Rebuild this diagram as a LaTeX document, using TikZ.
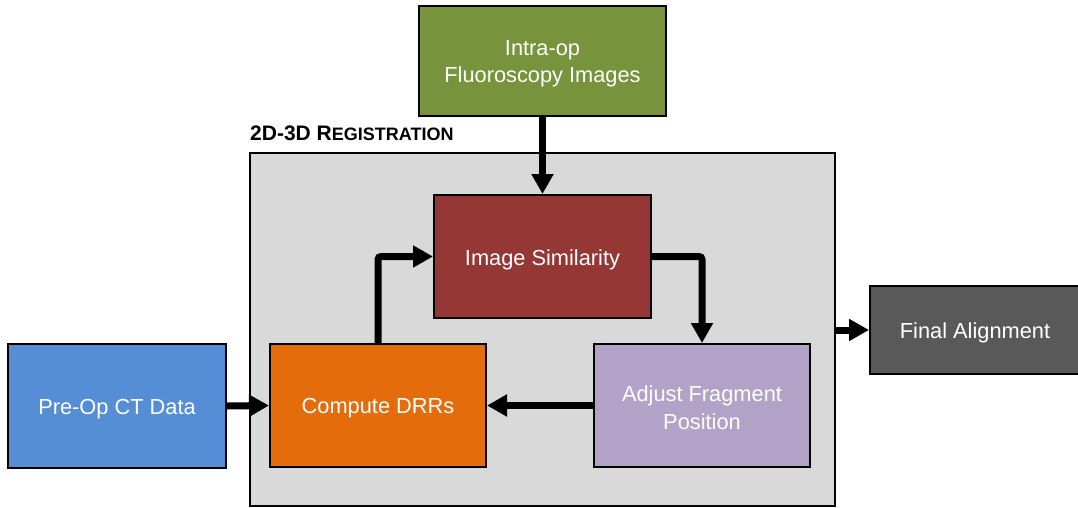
\documentclass[tikz,border=0pt]{standalone}
\usepackage{fontspec}
\setmainfont{Liberation Sans}
\usetikzlibrary{arrows.meta}

\definecolor{cgreen}{HTML}{77933C}
\definecolor{cred}{HTML}{953735}
\definecolor{corange}{HTML}{E46C0A}
\definecolor{cpurple}{HTML}{B3A2C7}
\definecolor{cblue}{HTML}{558ED5}
\definecolor{cdark}{HTML}{595959}
\definecolor{cpanel}{HTML}{D9D9D9}

\tikzset{
  block/.style={draw=black, line width=2pt, inner sep=0pt},
  caption/.style={text=white, align=center, inner sep=0pt,
    font=\fontsize{21.8}{27.5}\selectfont},
  flow/.style={line width=7pt, rounded corners=3pt,
    -{Triangle[length=20pt,width=21pt]}},
}

\begin{document}
\begin{tikzpicture}[x=1pt,y=-1pt]
  \useasboundingbox (0,0) rectangle (1078,508);

  % registration panel and its heading
  \node[draw=black, line width=2pt, fill=cpanel, inner sep=0pt,
        minimum width=585pt, minimum height=353pt] (panel) at (542.5,329.5) {};
  \node[anchor=base west, inner sep=0pt, font=\bfseries] (title) at (250,140)
    {\fontsize{21}{25}\selectfont 2D-3D R\fontsize{18}{20}\selectfont EGISTRATION};

  % process blocks
  \node[block, fill=cgreen, minimum width=247pt, minimum height=110pt] (fluoro) at (542.5,61) {};
  \node[block, fill=cred, minimum width=217pt, minimum height=123pt] (sim) at (542.5,256.5) {};
  \node[block, fill=corange, minimum width=216pt, minimum height=123pt] (drr) at (378,405.5) {};
  \node[block, fill=cpurple, minimum width=216pt, minimum height=123pt] (adjust) at (702,405.5) {};
  \node[block, fill=cblue, minimum width=218pt, minimum height=124pt] (ct) at (117,406) {};
  \node[block, fill=cdark, minimum width=210pt, minimum height=88pt] (final) at (975,330) {};

  % block captions
  \node[caption] (fluorotext) at ([yshift=-3pt]fluoro.center) {Intra-op\\Fluoroscopy Images};
  \node[caption] (simtext) at ([yshift=-3pt]sim.center) {Image Similarity};
  \node[caption] (drrtext) at ([yshift=-3pt]drr.center) {Compute DRRs};
  \node[caption] (adjusttext) at ([yshift=-2pt]adjust.center) {Adjust Fragment\\Position};
  \node[caption] (cttext) at ([yshift=-3pt]ct.center) {Pre-Op CT Data};
  \node[caption] (finaltext) at ([yshift=-3pt]final.center) {Final Alignment};

  % connectors
  \draw[flow] (fluoro.south) -- (sim.north);
  \draw[flow] (drr.north) |- (sim.west);
  \draw[flow] (sim.east) -| (adjust.north);
  \draw[flow] (adjust.west) -- (drr.east);
  \draw[flow] (ct.east) -- (drr.west);
  \draw[flow] (panel.east |- final.west) -- (final.west);
\end{tikzpicture}
\end{document}
